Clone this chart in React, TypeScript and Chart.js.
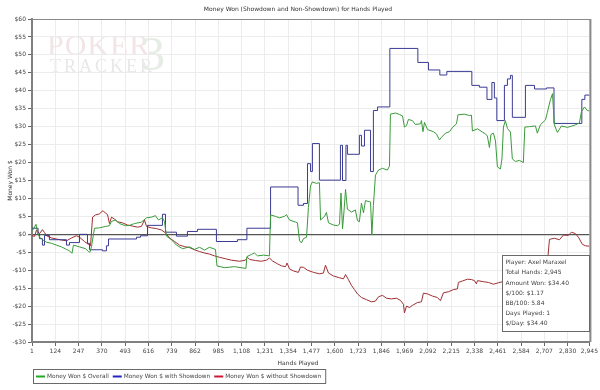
import { useEffect, useRef } from "react";
import { Chart, registerables } from "chart.js";

Chart.register(...registerables);

const TITLE = "Money Won (Showdown and Non-Showdown) for Hands Played";
const X_TITLE = "Hands Played";
const Y_TITLE = "Money Won $";
const seriesNames = [
  "Money Won $ Overall",
  "Money Won $ with Showdown",
  "Money Won $ without Showdown",
];
const lineColors = ["#3a9a3a", "#3b3b94", "#9e3034"];
const legendColors = ["#22aa22", "#2424c4", "#cc1838"];

const xTickValues = [
  1, 124, 247, 370, 493, 616, 739, 862, 985, 1108, 1231, 1354, 1477, 1600,
  1723, 1846, 1969, 2092, 2215, 2338, 2461, 2584, 2707, 2830, 2945,
];
const Y_MIN = -30;
const Y_MAX = 60;
const Y_STEP = 5;

const infoLines = [
  "Player: Axel Maraxel",
  "Total Hands: 2,945",
  "Amount Won: $34.40",
  "$/100: $1.17",
  "BB/100: 5.84",
  "Days Played: 1",
  "$/Day: $34.40",
];

// Money Won $ Overall (green)
const overallHands = [
  1, 9, 22, 30, 41, 56, 78, 104, 130, 157, 183, 199, 212, 220, 252, 284, 299,
  307, 315, 331, 357, 389, 410, 421, 442, 463, 495, 516, 542, 579, 606, 632,
  653, 669, 690, 701, 711, 738, 764, 796, 833, 859, 886, 912, 938, 970, 978,
  1018, 1070, 1131, 1136, 1160, 1176, 1192, 1224, 1255, 1261, 1287, 1308, 1334,
  1345, 1361, 1393, 1403, 1414, 1424, 1435, 1451, 1461, 1472, 1482, 1503, 1519,
  1525, 1546, 1556, 1567, 1593, 1614, 1625, 1633, 1641, 1649, 1657, 1667, 1688,
  1709, 1720, 1730, 1741, 1752, 1762, 1789, 1796, 1804, 1815, 1831, 1852, 1878,
  1889, 1894, 1921, 1942, 1958, 1968, 1979, 1989, 2010, 2026, 2053, 2058, 2066,
  2074, 2090, 2121, 2137, 2153, 2163, 2185, 2206, 2222, 2243, 2251, 2285, 2311,
  2322, 2327, 2354, 2380, 2396, 2406, 2417, 2425, 2438, 2449, 2459, 2475, 2483,
  2491, 2501, 2512, 2528, 2538, 2554, 2575, 2596, 2604, 2628, 2660, 2670, 2686,
  2713, 2723, 2739, 2750, 2760, 2776, 2797, 2829, 2866, 2892, 2903, 2919, 2934,
  2945,
];
const overallWon = [
  1.0, 1.5, 2.8, 0.5, -0.8, -1.5, -2.2, -2.5, -3.0, -3.5, -4.2, -4.6, -5.3,
  -3.0, -3.5, -4.0, -4.8, -5.0, -3.5, 1.7, 1.8, 2.2, 2.4, 3.6, 4.0, 3.0, 2.4,
  2.5, 3.0, 3.4, 4.6, 4.8, 5.2, 4.0, 4.6, 3.5, -0.5, -1.5, -3.0, -4.0, -3.5,
  -4.2, -3.6, -4.4, -3.6, -4.2, -8.8, -9.3, -9.0, -9.5, -6.2, -5.6, -5.2, -6.0,
  -5.8, -6.0, 5.4, 5.0, 4.6, 5.0, 5.5, 4.0, 3.4, 3.2, -1.8, -2.4, -1.2, -0.8,
  7.5, 13.5, 14.6, 14.2, 14.4, 4.0, 5.0, 6.1, 3.2, 2.6, 2.4, 2.8, 11.5, 1.5,
  6.5, 12.5, 7.0, 6.2, 6.8, 3.8, 3.5, 8.7, 6.0, 9.4, 9.0, -0.2, 8.0, 16.5, 17.9,
  18.4, 17.9, 19.0, 33.5, 33.8, 33.4, 33.0, 29.9, 30.3, 32.0, 31.7, 30.6, 30.8,
  31.7, 28.6, 31.2, 29.2, 28.6, 28.0, 26.3, 27.0, 28.2, 28.6, 29.8, 30.8, 33.3,
  33.5, 33.1, 33.2, 28.8, 29.4, 28.5, 28.0, 27.4, 24.2, 27.8, 28.2, 26.0, 18.8,
  18.2, 21.0, 29.9, 31.7, 29.5, 28.5, 21.0, 20.3, 20.6, 20.0, 29.9, 30.0, 30.2,
  28.2, 30.5, 31.9, 34.0, 37.5, 39.2, 30.5, 28.4, 30.2, 29.8, 30.4, 31.0, 34.2,
  35.5, 34.5, 34.4,
];

// Money Won $ with Showdown (blue), value changes at each listed hand
const showdownHands = [
  1, 33, 41, 56, 67, 93, 183, 199, 252, 294, 305, 373, 394, 405, 553, 574, 611,
  690, 706, 764, 822, 875, 975, 1086, 1136, 1261, 1406, 1435, 1456, 1472, 1482,
  1519, 1630, 1641, 1659, 1667, 1730, 1741, 1757, 1789, 1804, 1826, 1891, 2039,
  2095, 2155, 2192, 2324, 2364, 2404, 2430, 2443, 2456, 2496, 2512, 2528, 2538,
  2607, 2655, 2718, 2758, 2905, 2921, 2945,
];
const showdownWon = [
  1.7, 0, -1.2, -3.0, -0.3, -1.5, -3.0, -2.3, 0, -2.5, -4.3, -4.6, -3.2, -1.3,
  -0.8, -0.4, 2.5, 5.6, 0.6, -0.5, 0.8, 1.4, -2.0, -1.5, 1.7, 13.2, 8.1, 8.6,
  19.7, 17.5, 25.3, 15.1, 24.8, 15.0, 24.8, 22.3, 27.6, 24.6, 29.0, 17.5, 34.5,
  35.5, 51.8, 47.9, 45.8, 44.4, 45.4, 41.5, 41.0, 37.6, 42.3, 38.0, 31.7, 41.5,
  43.3, 44.3, 32.6, 41.5, 40.5, 40.8, 30.9, 37.6, 38.8, 38.6,
];

// Money Won $ without Showdown (red)
const nonShowdownHands = [
  1, 14, 25, 41, 56, 67, 78, 104, 130, 157, 183, 210, 236, 252, 278, 299, 310,
  321, 336, 357, 376, 389, 400, 410, 421, 437, 453, 479, 505, 532, 558, 579,
  595, 606, 632, 658, 685, 706, 727, 754, 780, 806, 833, 859, 886, 912, 938,
  965, 991, 1023, 1054, 1097, 1128, 1139, 1150, 1181, 1213, 1239, 1255, 1271,
  1297, 1319, 1340, 1348, 1361, 1382, 1408, 1419, 1435, 1456, 1488, 1519, 1540,
  1551, 1567, 1593, 1625, 1646, 1657, 1672, 1688, 1704, 1720, 1741, 1767, 1794,
  1815, 1831, 1852, 1873, 1899, 1926, 1947, 1963, 1968, 1979, 1995, 2010, 2037,
  2058, 2068, 2090, 2116, 2142, 2158, 2174, 2200, 2227, 2248, 2253, 2274, 2301,
  2322, 2338, 2348, 2354, 2385, 2412, 2438, 2464, 2486, 2549, 2628, 2707, 2723,
  2734, 2760, 2787, 2808, 2834, 2850, 2871, 2887, 2908, 2924, 2945,
];
const nonShowdownWon = [
  -0.3, -0.6, 1.2, 0.2, 1.3, 0.5, -0.4, -1.0, -1.3, -1.6, -1.8, -1.0, -0.4,
  -0.8, -2.0, -2.8, -3.2, 4.8, 5.4, 5.7, 6.6, 5.9, 5.5, 3.0, 4.8, 4.2, 3.5, 3.2,
  2.6, 2.3, 2.0, 2.2, 4.0, 2.2, 1.8, 1.6, 1.2, 0.4, -1.0, -2.0, -3.0, -3.4,
  -3.7, -4.3, -4.8, -5.2, -5.5, -6.0, -6.4, -6.8, -7.2, -7.5, -7.2, -6.4, -7.0,
  -7.3, -7.5, -7.2, -6.6, -7.4, -8.2, -8.8, -9.0, -8.0, -9.6, -10.2, -10.6,
  -9.1, -9.2, -10.0, -10.6, -11.0, -10.8, -8.6, -10.8, -11.6, -12.1, -12.4,
  -11.2, -12.6, -14.2, -15.4, -16.6, -17.6, -18.2, -18.8, -18.6, -17.4, -17.0,
  -17.8, -18.0, -17.8, -18.4, -19.5, -21.9, -20.0, -20.4, -19.8, -19.0, -18.8,
  -16.4, -16.6, -17.2, -17.6, -18.5, -16.3, -16.0, -15.4, -15.2, -13.4, -13.0,
  -12.5, -12.6, -12.9, -13.8, -12.9, -13.2, -13.4, -13.9, -13.5, -13.2, -12.4,
  -11.6, -11.0, -8.0, -1.4, -1.1, -1.5, -0.2, -0.3, 0.6, 0.2, -0.8, -2.8, -3.2,
  -3.3,
];

const FONT = '"DejaVu Sans", sans-serif';

function pairs(xs: number[], ys: number[]) {
  return xs.map((x, i) => ({ x, y: ys[i] }));
}

function moneyLabel(v: number) {
  return v < 0 ? "-$" + Math.abs(v) : "$" + v;
}

const decorPlugin = {
  id: "decor",
  beforeDraw(chart: any) {
    const { ctx, width, height } = chart;
    ctx.save();
    ctx.fillStyle = "#ffffff";
    ctx.fillRect(0, 0, width, height);
    // faint watermark
    ctx.textBaseline = "alphabetic";
    ctx.textAlign = "left";
    ctx.font = '30px "Liberation Serif", serif';
    (ctx as any).letterSpacing = "1px";
    ctx.fillStyle = "#f2e5e7";
    ctx.fillText("POKER", 47, 55);
    ctx.font = '18px "Liberation Serif", serif';
    (ctx as any).letterSpacing = "3px";
    ctx.fillStyle = "#e8e8e8";
    ctx.fillText("TRACKER", 50, 72);
    (ctx as any).letterSpacing = "0px";
    ctx.font = '48px "Liberation Serif", serif';
    ctx.fillStyle = "#e5ede5";
    ctx.fillText("3", 141, 70);
    ctx.restore();
  },
  afterDatasetsDraw(chart: any) {
    const { ctx, chartArea } = chart;
    ctx.save();
    ctx.strokeStyle = "#8a8a8a";
    ctx.lineWidth = 1;
    ctx.beginPath();
    ctx.moveTo(chartArea.left, chartArea.top + 0.5);
    ctx.lineTo(chartArea.right + 1, chartArea.top + 0.5);
    ctx.stroke();
    ctx.lineWidth = 2;
    ctx.beginPath();
    ctx.moveTo(chartArea.right + 1, chartArea.top);
    ctx.lineTo(chartArea.right + 1, chartArea.bottom);
    ctx.stroke();
    ctx.restore();
  },
  afterDraw(chart: any) {
    const { ctx, chartArea } = chart;
    ctx.save();
    ctx.fillStyle = "#333333";
    ctx.font = "6px " + FONT;
    ctx.textAlign = "center";
    ctx.textBaseline = "middle";
    ctx.fillText(TITLE, 298, 9.5);
    ctx.fillText(X_TITLE, 298, 363);
    ctx.save();
    ctx.translate(10, (chartArea.top + chartArea.bottom) / 2);
    ctx.rotate(-Math.PI / 2);
    ctx.fillText(Y_TITLE, 0, 0);
    ctx.restore();

    // legend
    ctx.textAlign = "left";
    ctx.font = "5.8px " + FONT;
    let cx = chartArea.left + 4;
    const ly = 376.5;
    seriesNames.forEach((name, i) => {
      ctx.strokeStyle = legendColors[i];
      ctx.lineWidth = 2;
      ctx.beginPath();
      ctx.moveTo(cx, ly);
      ctx.lineTo(cx + 9, ly);
      ctx.stroke();
      cx += 11;
      ctx.fillStyle = "#444444";
      ctx.fillText(name, cx, ly);
      cx += ctx.measureText(name).width + 4;
    });
    ctx.strokeStyle = "#6a6a6a";
    ctx.lineWidth = 1;
    ctx.strokeRect(chartArea.left + 1.5, 369.5, cx - chartArea.left - 1, 14);

    // info box
    ctx.font = "6px " + FONT;
    const bx = 502.5;
    const by = 255.5;
    ctx.fillStyle = "#ffffff";
    ctx.fillRect(bx, by, 87, 76);
    ctx.strokeStyle = "#6a6a6a";
    ctx.strokeRect(bx, by, 87, 76);
    ctx.fillStyle = "#444444";
    infoLines.forEach((t, i) => {
      ctx.fillText(t, bx + 3, by + 7.3 + i * 10.1);
    });
    ctx.restore();
  },
};

export default function App() {
  const ref = useRef<HTMLCanvasElement | null>(null);

  useEffect(() => {
    document.body.style.margin = "0";
    const canvas = ref.current;
    if (!canvas) return;
    const chart = new Chart(canvas, {
      type: "line",
      data: {
        datasets: [
          {
            label: seriesNames[0],
            data: pairs(overallHands, overallWon),
            borderColor: lineColors[0],
            borderWidth: 1,
            pointRadius: 0,
            tension: 0,
          },
          {
            label: seriesNames[1],
            data: pairs(showdownHands, showdownWon),
            borderColor: lineColors[1],
            borderWidth: 1,
            pointRadius: 0,
            stepped: "before",
          },
          {
            label: seriesNames[2],
            data: pairs(nonShowdownHands, nonShowdownWon),
            borderColor: lineColors[2],
            borderWidth: 1,
            pointRadius: 0,
            tension: 0,
          },
        ],
      },
      options: {
        animation: false,
        responsive: false,
        devicePixelRatio: 1,
        layout: { padding: { left: 0, top: 19, right: 10, bottom: 28 } },
        plugins: {
          legend: { display: false },
          tooltip: { enabled: false },
          title: { display: false },
        },
        scales: {
          x: {
            type: "linear",
            min: 1,
            max: 2945,
            afterBuildTicks: (scale: any) => {
              scale.ticks = xTickValues.map((v) => ({ value: v }));
            },
            afterFit: (scale: any) => {
              scale.height = 20;
            },
            ticks: {
              autoSkip: false,
              maxRotation: 0,
              minRotation: 0,
              padding: 2,
              color: "#444444",
              font: { family: FONT, size: 6 },
              callback: (v: any) => Number(v).toLocaleString("en-US"),
            },
            grid: {
              color: "#ececec",
              tickColor: "#666666",
              tickLength: 4,
            },
            border: { color: "#808080", width: 2 },
          },
          y: {
            type: "linear",
            min: Y_MIN,
            max: Y_MAX,
            afterFit: (scale: any) => {
              scale.width = 32;
            },
            ticks: {
              stepSize: Y_STEP,
              padding: 2,
              color: "#444444",
              font: { family: FONT, size: 6 },
              callback: (v: any) => moneyLabel(Number(v)),
            },
            grid: {
              color: (c: any) => (c.tick && c.tick.value === 0 ? "#555555" : "#ececec"),
              lineWidth: (c: any) => (c.tick && c.tick.value === 0 ? 1.2 : 1),
              tickColor: "#666666",
              tickLength: 4,
            },
            border: { color: "#808080", width: 2 },
          },
        },
      },
      plugins: [decorPlugin],
    });
    return () => chart.destroy();
  }, []);

  return (
    <div style={{ width: 600, height: 390 }}>
      <canvas ref={ref} width={600} height={390} style={{ display: "block" }} />
    </div>
  );
}
